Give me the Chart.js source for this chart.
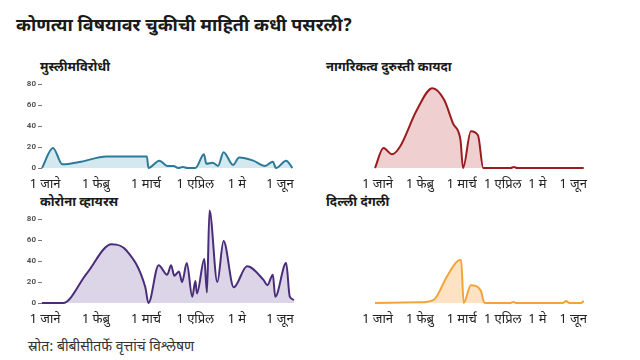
<!DOCTYPE html>
<html lang="mr">
<head>
<meta charset="utf-8">
<title>चुकीची माहिती</title>
<script src="https://cdn.jsdelivr.net/npm/chart.js@4.4.0/dist/chart.umd.min.js"></script>
<style>
body { margin: 0; width: 640px; height: 360px; background: #fff; overflow: hidden;
       font-family: 'Noto Sans Devanagari', 'Noto Sans', sans-serif; color: #222; }
.t { position: absolute; white-space: nowrap; }
#title { left: 16px; top: 15px; font-size: 18px; font-weight: bold; color: #1a1a1a; }
.sub { font-size: 13px; font-weight: bold; color: #1a1a1a; }
#src { left: 28px; top: 338px; font-size: 14px; color: #333; }
canvas { position: absolute; }
</style>
</head>
<body>
<div class="t" id="title">कोणत्या विषयावर चुकीची माहिती कधी पसरली?</div>
<div class="t sub" style="left:40px; top:59px;">मुस्लीमविरोधी</div>
<div class="t sub" style="left:326px; top:59px;">नागरिकत्व दुरुस्ती कायदा</div>
<div class="t sub" style="left:40px; top:194px;">कोरोना व्हायरस</div>
<div class="t sub" style="left:326px; top:194px;">दिल्ली दंगली</div>
<canvas id="c1" width="320" height="135" style="left:0; top:60px;"></canvas>
<canvas id="c2" width="320" height="135" style="left:320px; top:60px;"></canvas>
<canvas id="c3" width="320" height="135" style="left:0; top:195px;"></canvas>
<canvas id="c4" width="320" height="135" style="left:320px; top:195px;"></canvas>
<div class="t" id="src">स्रोत: बीबीसीतर्फे वृत्तांचं विश्लेषण</div>
<script>
// x values are day positions along the axis, starting at 1 Jan
const monthTickDays = [2, 34.5, 66.5, 98, 124.5, 152];
const monthLabels = ['1 जाने', '1 फेब्रु', '1 मार्च', '1 एप्रिल', '1 मे', '1 जून'];
const yTicks = [0, 20, 40, 60, 80];

const antiMuslimDays   = [0, 7, 13, 25, 41, 67, 68, 75, 80, 84, 87, 90, 93, 98, 103.5, 105, 109, 112.5, 116, 122, 126, 135, 142.5, 147.5, 149.5, 156, 160];
const antiMuslimValues = [0, 19, 3.5, 6, 11, 11, 0, 7, 2, 2, 0, 1, 0, 0, 13, 4, 5, 2, 15, 3, 10, 7, 2, 6, 0, 7, 0];

const caaDays   = [0, 6.5, 13, 19, 32, 44, 53, 60, 65.5, 67.5, 73.5, 79, 83, 104, 106.5, 109, 160];
const caaValues = [0, 19, 13, 20, 55, 76, 65, 42, 27, 0, 35, 31, 0, 0, 1, 0, 0];

const coronaDays   = [0, 13.5, 28.5, 44.5, 54, 66, 68, 74.5, 80, 82.5, 84.5, 87.5, 89.5, 92.5, 96, 98, 99, 103.7, 105.4, 107, 112, 116, 122.5, 131, 141.5, 144, 147.5, 149, 156, 158.3, 161];
const coronaValues = [0, 0, 28, 56, 50, 15, 0, 36, 27, 36, 26, 30, 20, 38, 6, 21, 9, 42, 10, 88, 20, 59, 15, 35, 22, 17, 27, 6, 38, 6, 3];

const riotsDays   = [0, 34, 45, 55.5, 65, 66, 68, 73.5, 81, 83.5, 85, 104, 106, 108, 144, 146.5, 149, 158, 160];
const riotsValues = [0, 0.6, 3, 26, 41, 41, 0, 17, 12, 1, 0, 0, 1, 0, 0, 2, 0, 0, 2];

const fontFam = "'Noto Sans Devanagari', 'Noto Sans', sans-serif";

function makeChart(id, days, values, line, fill, showY) {
  const pts = days.map((d, i) => ({x: d, y: values[i]}));
  return new Chart(document.getElementById(id), {
    type: 'line',
    data: { datasets: [{
      data: pts,
      borderColor: line,
      backgroundColor: fill,
      fill: 'origin',
      borderWidth: 2,
      pointRadius: 0,
      cubicInterpolationMode: 'monotone',
      clip: 4
    }]},
    options: {
      responsive: false,
      animation: false,
      events: [],
      layout: { padding: { top: 13.5, bottom: 0, left: showY ? 0 : 13, right: showY ? 26 : 55 } },
      plugins: { legend: { display: false }, tooltip: { enabled: false } },
      scales: {
        x: {
          type: 'linear', min: 0, max: 161,
          afterBuildTicks: s => { s.ticks = monthTickDays.map(v => ({value: v})); },
          afterFit: s => { s.height = 27; },
          ticks: {
            autoSkip: false, maxRotation: 0, padding: 2,
            callback: v => monthLabels[monthTickDays.indexOf(v)],
            font: { family: fontFam, size: 13 }, color: '#222'
          },
          grid: { display: false },
          border: { display: false }
        },
        y: {
          display: showY,
          min: 0, max: 90,
          afterBuildTicks: s => { s.ticks = yTicks.map(v => ({value: v})); },
          afterFit: s => { s.width = 42; },
          ticks: { padding: 2, font: { family: 'Roboto', size: 8, weight: 'bold' }, color: '#555' },
          grid: { display: true, drawOnChartArea: false, tickLength: 4, color: '#777' },
          border: { display: false }
        }
      }
    }
  });
}

makeChart('c1', antiMuslimDays, antiMuslimValues, '#2b7a98', '#d3e8ef', true);
makeChart('c2', caaDays, caaValues, '#9b1c1f', '#efcfcf', false);
makeChart('c3', coronaDays, coronaValues, '#4a2d7a', '#dcd5e8', true);
makeChart('c4', riotsDays, riotsValues, '#f2a33a', '#fde3c3', false);
</script>
</body>
</html>
